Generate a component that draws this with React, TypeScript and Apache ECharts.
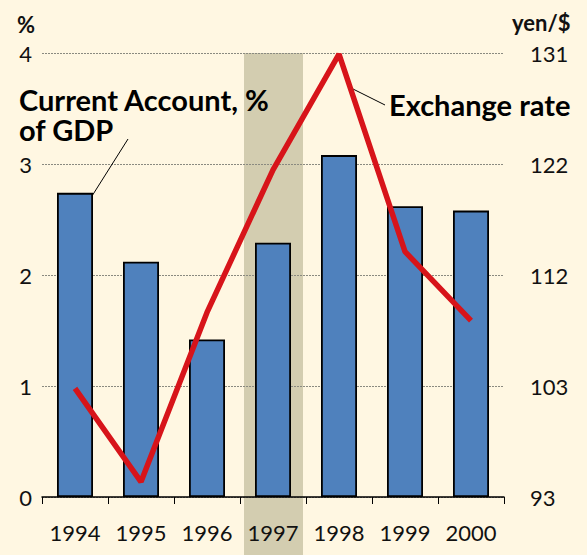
import React, { useEffect, useRef } from "react";
import * as echarts from "echarts";

const years = ["1994", "1995", "1996", "1997", "1998", "1999", "2000"];
const currentAccount = [2.74, 2.12, 1.42, 2.29, 3.08, 2.62, 2.58];
const exchangeRate = [102.3, 94.3, 108.8, 121.0, 130.9, 114.0, 108.1];
const leftTicks = { min: 0, max: 4, interval: 1 };
const rightTicks = { min: 93, max: 131, interval: 9.5 };
const shadedYear = "1997";

const FONT = "Lato, 'Open Sans', sans-serif";
const BG = "#FFF7E2";

export default function App() {
  const ref = useRef<HTMLDivElement>(null);
  useEffect(() => {
    if (!ref.current) return;
    const chart = echarts.init(ref.current, null, { renderer: "svg" });
    const H = 555;
    const option: any = {
      animation: false,
      backgroundColor: BG,
      textStyle: { fontFamily: FONT },
      grid: { left: 42, right: 83, top: 53, bottom: 58 },
      xAxis: {
        type: "category",
        data: years,
        axisLine: { lineStyle: { color: "#000", width: 1.5 } },
        axisTick: { show: true, length: 7, lineStyle: { color: "#000", width: 1 } },
        axisLabel: { color: "#111", fontSize: 22, fontFamily: FONT, margin: 24, interval: 0 },
      },
      yAxis: [
        {
          type: "value",
          min: leftTicks.min,
          max: leftTicks.max,
          interval: leftTicks.interval,
          axisLine: { show: false },
          axisTick: { show: false },
          axisLabel: { color: "#111", fontSize: 22, fontFamily: FONT, margin: 10 },
          splitLine: { lineStyle: { color: "#8a8a80", type: [2, 1], width: 1 } },
        },
        {
          type: "value",
          min: rightTicks.min,
          max: rightTicks.max,
          interval: rightTicks.interval,
          axisLine: { show: false },
          axisTick: { show: false },
          splitLine: { show: false },
          axisLabel: {
            color: "#111",
            fontSize: 22,
            fontFamily: FONT,
            margin: 26,
            formatter: (v: number) => String(Math.round(v)),
          },
        },
      ],
      series: [
        {
          type: "bar",
          data: currentAccount,
          yAxisIndex: 0,
          barWidth: 36,
          itemStyle: { color: "#4F81BD", borderColor: "#000", borderWidth: 1.8 },
          z: 2,
        },
        {
          type: "line",
          data: exchangeRate,
          yAxisIndex: 1,
          symbol: "none",
          lineStyle: { color: "#D7141A", width: 5.5 },
          z: 3,
        },
      ],
    };
    chart.setOption(option);
    const cx = chart.convertToPixel({ xAxisIndex: 0 }, shadedYear) as number;
    const yTop = chart.convertToPixel({ yAxisIndex: 0 }, leftTicks.max) as number;
    const bw = 59;
    chart.setOption({
      graphic: [
        {
          type: "rect",
          z: -10,
          silent: true,
          shape: { x: cx - bw / 2 + 0.5, y: yTop, width: bw, height: H - yTop },
          style: { fill: "#D3CDB0" },
        },
        {
          type: "text",
          left: 17,
          top: 13,
          style: { text: "%", font: `bold 22px ${FONT}`, fill: "#111" },
        },
        {
          type: "text",
          left: 512,
          top: 11,
          style: { text: "yen/$", font: `bold 22px ${FONT}`, fill: "#111" },
        },
        {
          type: "text",
          left: 19,
          top: 85,
          style: { text: "Current Account, %", font: `bold 29px ${FONT}`, fill: "#000" },
        },
        {
          type: "text",
          left: 19,
          top: 115,
          style: { text: "of GDP", font: `bold 29px ${FONT}`, fill: "#000" },
        },
        {
          type: "text",
          left: 389,
          top: 90,
          style: { text: "Exchange rate", font: `bold 29px ${FONT}`, fill: "#000" },
        },
        {
          type: "line",
          shape: { x1: 128, y1: 139, x2: 92, y2: 196 },
          style: { stroke: "#000", lineWidth: 1 },
        },
        {
          type: "line",
          shape: { x1: 353, y1: 89, x2: 385, y2: 105 },
          style: { stroke: "#000", lineWidth: 1 },
        },
      ],
    });
    return () => chart.dispose();
  }, []);
  return <div ref={ref} style={{ width: 587, height: 555, position: "absolute", left: 0, top: 0 }} />;
}
